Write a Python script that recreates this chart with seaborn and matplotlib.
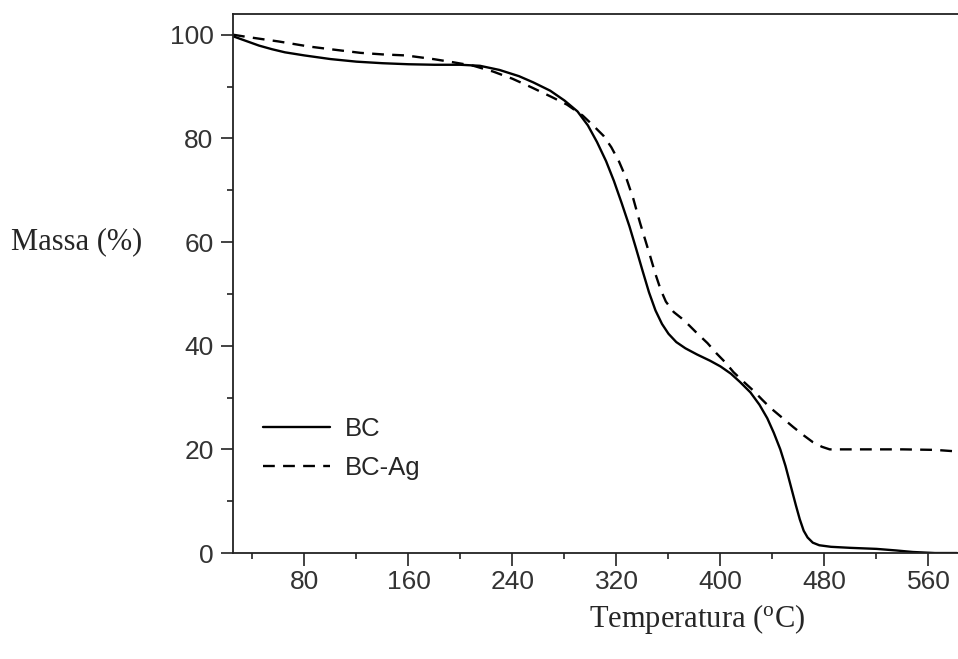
import pandas as pd
import matplotlib
matplotlib.use("Agg")
import matplotlib.pyplot as plt
from matplotlib.ticker import MultipleLocator
import seaborn as sns

# TGA curves
bc_temp = [25, 35, 45, 55, 65, 80, 100, 120, 140, 160, 180, 200, 215, 230, 245,
           256, 269, 280, 290, 298, 305, 312, 318, 324, 330, 335, 340, 345, 350,
           355, 360, 366, 373, 382, 392, 400, 408, 415, 423, 430, 436, 441, 446,
           450, 454, 458, 461, 464, 467, 471, 476, 485, 500, 520, 535, 548, 565, 582]
bc_mass = [99.7, 98.8, 97.9, 97.2, 96.6, 96.0, 95.3, 94.8, 94.5, 94.3, 94.2, 94.2, 94.0, 93.2, 92.0,
           90.8, 89.2, 87.3, 85.2, 82.5, 79.3, 75.6, 71.8, 67.5, 63.0, 58.8, 54.5, 50.3, 46.8,
           44.2, 42.3, 40.7, 39.5, 38.3, 37.1, 36.0, 34.6, 33.0, 31.0, 28.6, 26.0, 23.2, 20.0,
           16.8, 13.0, 9.2, 6.5, 4.3, 3.0, 2.0, 1.5, 1.2, 1.0, 0.8, 0.5, 0.2, 0.0, 0.0]

bcag_temp = [25, 35, 46, 60, 84, 100, 123, 140, 158, 179, 194, 210, 225, 240, 255,
             270, 282, 294, 302, 310, 316, 322, 328, 333, 338, 342, 346, 350, 354,
             358, 364, 370, 376, 382, 390, 397, 404, 410, 418, 425, 432, 438, 447,
             456, 464, 471, 478, 484, 500, 540, 565, 582]
bcag_mass = [100.0, 99.6, 99.2, 98.7, 97.7, 97.2, 96.5, 96.2, 96.0, 95.3, 94.7, 94.0, 92.9, 91.5, 89.8,
             88.0, 86.5, 84.4, 82.5, 80.5, 78.3, 75.5, 72.0, 68.3, 63.8, 60.5, 57.2, 53.8, 50.8,
             48.5, 46.5, 45.3, 43.9, 42.4, 40.5, 38.5, 36.7, 34.9, 33.0, 31.4, 29.6, 28.1, 26.2,
             24.3, 22.7, 21.4, 20.5, 20.0, 20.0, 20.0, 19.9, 19.6]

df_bc = pd.DataFrame({"temp": bc_temp, "mass": bc_mass})
df_ag = pd.DataFrame({"temp": bcag_temp, "mass": bcag_mass})

sns.set_style("white")
plt.rcParams["font.family"] = ["Liberation Sans", "DejaVu Sans"]
plt.rcParams["mathtext.fontset"] = "custom"
plt.rcParams["mathtext.rm"] = "Liberation Serif"

fig = plt.figure(figsize=(9.58, 6.59), dpi=100)
ax = fig.add_axes([0.2432, 0.1608, 0.7568, 0.818])

sns.lineplot(data=df_bc, x="temp", y="mass", ax=ax, color="black", linewidth=1.7,
             estimator=None, label="BC")
sns.lineplot(data=df_ag, x="temp", y="mass", ax=ax, color="black", linewidth=1.7,
             estimator=None, label="BC-Ag", linestyle=(0, (5, 3.5)))

ax.set_xlim(25, 582.7)
ax.set_ylim(0, 104)
ax.xaxis.set_major_locator(MultipleLocator(80))
ax.xaxis.set_minor_locator(MultipleLocator(40))
ax.yaxis.set_major_locator(MultipleLocator(20))
ax.yaxis.set_minor_locator(MultipleLocator(10))
ax.set_xticks([80, 160, 240, 320, 400, 480, 560])

ax.spines["right"].set_visible(False)
for s in ["left", "bottom", "top"]:
    ax.spines[s].set_color("#222222")
    ax.spines[s].set_linewidth(1.3)

ax.tick_params(axis="both", which="major", direction="out", length=9, width=1.2,
               color="#222222", labelsize=19, labelcolor="#333333", pad=3)
ax.tick_params(axis="y", which="major", pad=5)
ax.tick_params(axis="both", which="minor", direction="out", length=4.5, width=1.2,
               color="#222222")
ax.tick_params(bottom=True, left=True, which="both")

ax.set_xlabel(r"Temperatura ($\mathrm{^{o}}$C)", fontsize=22, family="Liberation Serif")
ax.xaxis.set_label_coords(0.64, -0.09)
ax.set_ylabel("Massa (%)", fontsize=22, family="Liberation Serif", rotation=0,
              ha="center", va="center")
ax.yaxis.set_label_coords(-0.215, 0.578)

ax.legend(loc="center left", bbox_to_anchor=(0.041, 0.194), frameon=False,
          fontsize=18.5, handlelength=2.6, handletextpad=0.6, labelspacing=0.6,
          borderpad=0, borderaxespad=0)

fig.savefig("out.png", dpi=100)
